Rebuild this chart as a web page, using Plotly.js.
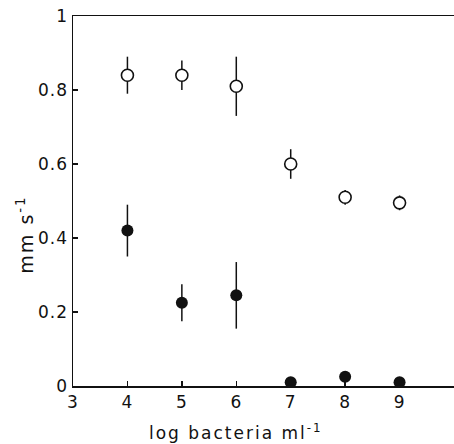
<!DOCTYPE html>
<html><head><meta charset="utf-8">
<script src="https://cdn.plot.ly/plotly-3.0.1.min.js"></script>
<style>
body{margin:0;background:#fff}#c{width:454px;height:444px}
.xtick text,.ytick text{letter-spacing:1px}
.annotation-text{letter-spacing:2px}
</style>
</head><body><div id="c"></div>
<script>
const xVals = [4, 5, 6, 7, 8, 9];
const openY = [0.84, 0.84, 0.81, 0.60, 0.51, 0.495];
const openErr = [0.05, 0.04, 0.08, 0.04, 0.02, 0.02];
const filledY = [0.42, 0.225, 0.245, 0.01, 0.025, 0.01];
const filledErr = [0.07, 0.05, 0.09, 0, 0, 0];
const xTicks = [3, 4, 5, 6, 7, 8, 9];
const yTicks = [0, 0.2, 0.4, 0.6, 0.8, 1];
const yTickText = ['0', '0.2', '0.4', '0.6', '0.8', '1'];
const xTitle = 'log bacteria ml<sup>-1</sup>';
const yTitle = 'mm s<sup>-1</sup>';

const font = {family: 'DejaVu Sans, sans-serif', size: 17, color: '#111'};
const yFont = {family: 'DejaVu Sans, sans-serif', size: 19, color: '#111'};
const data = [
  {x: xVals, y: openY, mode: 'markers', type: 'scatter',
   error_y: {type: 'data', array: openErr, visible: true, color: '#111', thickness: 1.5, width: 0},
   marker: {size: 12, color: '#fff', line: {color: '#111', width: 1.6}}},
  {x: xVals, y: filledY, mode: 'markers', type: 'scatter',
   error_y: {type: 'data', array: filledErr, visible: true, color: '#111', thickness: 1.5, width: 0},
   marker: {size: 12, color: '#111', line: {width: 0}}}
];
const layout = {
  width: 454, height: 444, showlegend: false,
  paper_bgcolor: '#fff', plot_bgcolor: '#fff',
  margin: {l: 73, r: 0, t: 16, b: 58},
  font: font,
  xaxis: {range: [3, 10], tickvals: xTicks, ticktext: xTicks.map(String),
    showgrid: false, zeroline: false, showline: true, linecolor: '#111', linewidth: 1.5,
    mirror: true, ticks: 'inside', ticklen: 5, tickcolor: '#111', tickwidth: 1.5},
  yaxis: {range: [0, 1], tickvals: yTicks, ticktext: yTickText, ticklabelstandoff: 0,
    showgrid: false, zeroline: false, showline: true, linecolor: '#111', linewidth: 1.5,
    ticks: 'inside', ticklen: 5, tickcolor: '#111', tickwidth: 1.5},
  annotations: [
    {text: xTitle, xref: 'x', yref: 'paper', x: 6, y: -0.09, yanchor: 'top', xanchor: 'center',
     showarrow: false, font: font},
    {text: yTitle, xref: 'paper', yref: 'y', x: -0.125, y: 0.41, xanchor: 'center', yanchor: 'middle',
     textangle: -90, showarrow: false, font: yFont}
  ]
};
Plotly.newPlot('c', data, layout, {displayModeBar: false, staticPlot: true});
</script></body></html>
